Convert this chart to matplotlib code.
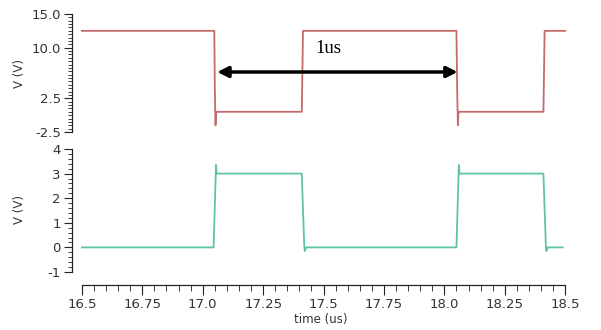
import matplotlib
matplotlib.use("Agg")
import matplotlib.pyplot as plt
from matplotlib.ticker import FixedLocator, MultipleLocator, FixedFormatter

plt.rcParams["axes.unicode_minus"] = False

# Data
red_t = [16.5, 17.048, 17.05, 17.053, 17.055, 17.06, 17.41, 17.415, 18.05, 18.053, 18.056, 18.058, 18.063, 18.41, 18.415, 18.5]
red_v = [12.5, 12.5, 4.0, -1.5, 0.3, 0.5, 0.5, 12.5, 12.5, 4.0, -1.5, 0.3, 0.5, 0.5, 12.5, 12.5]
green_t = [16.5, 17.045, 17.055, 17.058, 17.41, 17.42, 17.422, 17.428, 18.05, 18.06, 18.063, 18.41, 18.42, 18.422, 18.428, 18.49]
green_v = [0.0, 0.0, 3.35, 3.0, 3.0, 0.1, -0.15, 0.0, 0.0, 3.35, 3.0, 3.0, 0.1, -0.15, 0.0, 0.0]
top_ticks = [15.0, 10.0, 2.5, -2.5]
top_labels = ["15.0", "10.0", "2.5", "-2.5"]
bot_ticks = [4, 3, 2, 1, 0, -1]
x_ticks = [16.5, 16.75, 17.0, 17.25, 17.5, 17.75, 18.0, 18.25, 18.5]
x_labels = ["16.5", "16.75", "17.0", "17.25", "17.5", "17.75", "18.0", "18.25", "18.5"]
arrow_span = (17.06, 18.055)
arrow_y = 6.4
arrow_text = "1us"

W, H = 601, 330
fig = plt.figure(figsize=(W/100, H/100), dpi=100)
tc = "#333333"

def axrect(x0, y0, x1, y1):
    return [x0/W, 1 - y1/H, (x1-x0)/W, (y1-y0)/H]

xl = (16.459, 18.52)

ax1 = fig.add_axes(axrect(72, 14, 570, 132))
ax2 = fig.add_axes(axrect(72, 149, 570, 272))

ax1.plot(red_t, red_v, color="#c46a6a", lw=1.3)
ax2.plot(green_t, green_v, color="#5ec59a", lw=1.3)

for ax in (ax1, ax2):
    ax.set_xlim(*xl)
    for s in ("top", "right", "bottom"):
        ax.spines[s].set_visible(False)
    ax.spines["left"].set_color("#222222")
    ax.spines["left"].set_linewidth(0.9)
    ax.tick_params(axis="y", which="major", length=6, width=0.8, colors="#222222", labelcolor=tc, labelsize=9.5, pad=2)
    ax.tick_params(axis="y", which="minor", length=3, width=0.6, colors="#222222")

ax1.set_ylim(-2.5, 15)
ax1.yaxis.set_major_locator(FixedLocator(top_ticks))
ax1.yaxis.set_major_formatter(FixedFormatter(top_labels))
ax1.yaxis.set_minor_locator(MultipleLocator(0.5))
ax1.set_xticks([])

ax2.set_ylim(-1, 4)
ax2.set_yticks(bot_ticks)
ax2.yaxis.set_minor_locator(MultipleLocator(0.2))

for ax, yc in ((ax1, 73), (ax2, 210)):
    fig.text(20/W, 1 - yc/H, "V (V)", rotation=90, fontsize=8.5, color=tc, ha="center", va="center")

ax2.spines["bottom"].set_visible(True)
ax2.spines["bottom"].set_bounds(16.5, 18.5)
ax2.spines["bottom"].set_position(("outward", 9))
ax2.spines["bottom"].set_color("#222222")
ax2.spines["bottom"].set_linewidth(0.9)
ax2.set_xticks(x_ticks)
ax2.set_xticklabels(x_labels)
ax2.xaxis.set_minor_locator(MultipleLocator(0.05))
ax2.tick_params(axis="x", which="major", length=7, width=0.8, colors="#222222", labelcolor=tc, labelsize=9.5, pad=3)
ax2.tick_params(axis="x", which="minor", length=4, width=0.6, colors="#222222")
ax2.set_xlabel("time (us)", fontsize=8.5, color=tc, labelpad=1)

ax1.annotate("", xy=(arrow_span[0], arrow_y), xytext=(arrow_span[1], arrow_y),
             arrowprops=dict(arrowstyle="<|-|>", color="black", lw=2.5, mutation_scale=16,
                             shrinkA=0, shrinkB=0))
ax1.text(17.52, 9.9, arrow_text, fontsize=13.5, family="Liberation Serif", ha="center", va="center", color="black")

fig.savefig("out.png", dpi=100)
